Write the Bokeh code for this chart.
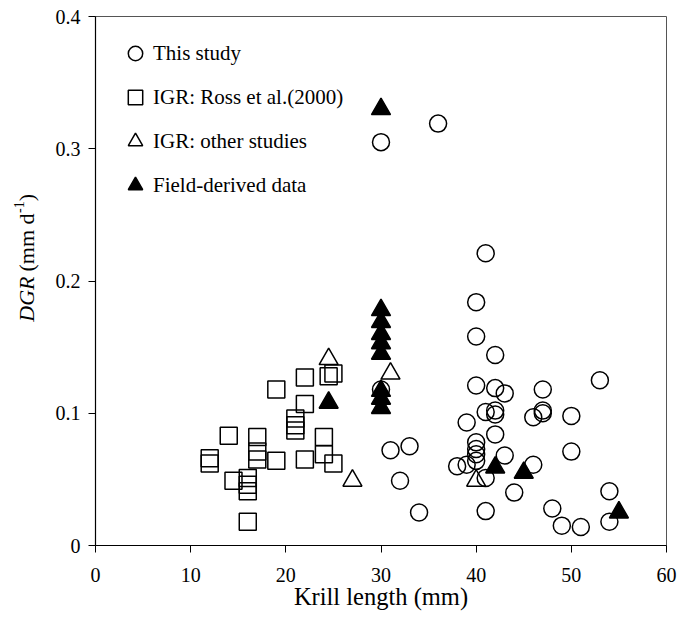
from bokeh.plotting import figure
from bokeh.layouts import row
from bokeh.models import Legend, LegendItem, FixedTicker
from bokeh.core.properties import value
from bokeh.embed import file_html
from bokeh.resources import INLINE

# "This study" (open circles)
study_x = [30, 36, 41, 40, 40, 42, 53, 40, 42, 43, 47, 30, 41, 42, 42, 46, 47, 47, 50, 39, 42,
           50, 40, 40, 40, 40, 43, 38, 39, 46, 41, 44, 54, 41, 48, 49, 51, 54, 31, 33, 32, 34]
study_y = [0.305, 0.319, 0.221, 0.184, 0.158, 0.144, 0.125, 0.121, 0.119, 0.115, 0.118, 0.118,
           0.101, 0.102, 0.099, 0.097, 0.100, 0.102, 0.098, 0.093, 0.084, 0.071, 0.078, 0.073,
           0.069, 0.064, 0.068, 0.060, 0.061, 0.061, 0.051, 0.040, 0.041, 0.026, 0.028, 0.015,
           0.014, 0.018, 0.072, 0.075, 0.049, 0.025]

# IGR: Ross et al. (2000) (open squares)
ross_x = [12, 12, 14, 14.5, 16, 16, 16, 16, 17, 17, 17, 19, 19, 21, 21, 21, 22, 22, 22, 24, 24,
          24.5, 25, 25]
ross_y = [0.066, 0.062, 0.083, 0.049, 0.051, 0.046, 0.041, 0.018, 0.082, 0.071, 0.065, 0.118,
          0.064, 0.096, 0.091, 0.087, 0.127, 0.107, 0.065, 0.082, 0.069, 0.128, 0.130, 0.062]

# IGR: other studies (open triangles)
other_x = [24.5, 27, 31, 40]
other_y = [0.141, 0.049, 0.130, 0.049]

# Field-derived data (filled triangles)
field_x = [30, 30, 30, 30, 30, 30, 30, 30, 30, 24.5, 42, 45, 55]
field_y = [0.330, 0.178, 0.169, 0.160, 0.153, 0.145, 0.117, 0.111, 0.104, 0.108, 0.059, 0.055, 0.025]

x_ticks = [0, 10, 20, 30, 40, 50, 60]
y_ticks = [0, 0.1, 0.2, 0.3, 0.4]

FONT = "Liberation Serif"
TOP, BOTTOM, FH = 16, 97, 529
LEFT_W = 40

p = figure(frame_width=571, frame_height=FH, x_range=(0, 60), y_range=(0, 0.4),
           output_backend="svg", toolbar_location=None,
           min_border_left=95 - LEFT_W, min_border_right=12,
           min_border_top=TOP, min_border_bottom=BOTTOM)
p.background_fill_color = "white"
p.border_fill_color = "white"
p.outline_line_color = "#555555"
p.outline_line_width = 1
p.xgrid.visible = False
p.ygrid.visible = False

for ax in (p.xaxis[0], p.yaxis[0]):
    ax.major_label_text_font = FONT
    ax.major_label_text_font_size = "20px"
    ax.major_label_text_color = "black"
    ax.axis_line_color = "black"
    ax.axis_line_width = 1.2
    ax.major_tick_line_color = "black"
    ax.major_tick_out = 7
    ax.major_tick_in = 0
    ax.minor_tick_line_color = None

p.xaxis.ticker = FixedTicker(ticks=x_ticks)
p.yaxis.ticker = FixedTicker(ticks=y_ticks)
p.yaxis.major_label_overrides = {0: "0"}
p.xaxis.major_label_standoff = 15
p.yaxis.major_label_standoff = 8
p.xaxis.axis_label = "Krill length (mm)"
p.xaxis.axis_label_text_font = FONT
p.xaxis.axis_label_text_font_style = "normal"
p.xaxis.axis_label_text_font_size = "24.5px"
p.xaxis.axis_label_text_color = "black"
p.xaxis.axis_label_standoff = -2

r_study = p.scatter(study_x, study_y, marker="circle", size=17, fill_color=None,
                    line_color="black", line_width=1.5)
r_ross = p.scatter(ross_x, ross_y, marker="square", size=17, fill_color=None,
                   line_color="black", line_width=1.5)
r_other = p.scatter(other_x, other_y, marker="triangle", size=19, fill_color=None,
                    line_color="black", line_width=1.5)
r_field = p.scatter(field_x, field_y, marker="triangle", size=19, fill_color="black",
                    line_color="black", line_width=1.5)

legend = Legend(items=[
    LegendItem(label="This study", renderers=[r_study]),
    LegendItem(label="IGR: Ross et al.(2000)", renderers=[r_ross]),
    LegendItem(label="IGR: other studies", renderers=[r_other]),
    LegendItem(label="Field-derived data", renderers=[r_field]),
], location=(22, 340), orientation="vertical")
legend.label_text_font = FONT
legend.label_text_font_size = "21px"
legend.label_text_color = "black"
legend.glyph_width = 36
legend.glyph_height = 40
legend.label_height = 40
legend.spacing = 4
legend.padding = 10
legend.margin = 0
legend.label_standoff = 0
legend.border_line_color = None
legend.background_fill_alpha = 0
p.add_layout(legend)

# y-axis title drawn in a narrow strip figure to the left
lf = figure(frame_width=LEFT_W, frame_height=FH, x_range=(0, 1), y_range=p.y_range,
            output_backend="svg", toolbar_location=None,
            min_border_left=0, min_border_right=0,
            min_border_top=TOP, min_border_bottom=BOTTOM)
lf.xaxis.visible = False
lf.yaxis.visible = False
lf.xgrid.visible = False
lf.ygrid.visible = False
lf.outline_line_color = None
lf.background_fill_color = "white"
lf.border_fill_color = "white"

common = dict(angle=90, angle_units="deg", text_baseline="middle",
              text_font=value(FONT), text_color="black")
lf.text(x=[0.65], y=[0.2034], text=["DGR"], text_align="right",
        text_font_style="italic", text_font_size="22px", **common)
lf.text(x=[0.65], y=[0.2072], text=["(mm d"], text_align="left",
        text_font_size="22px", **common)
lf.text(x=[0.47], y=[0.2515], text=["-1"], text_align="left",
        text_font_size="14px", **common)
lf.text(x=[0.65], y=[0.2603], text=[")"], text_align="left",
        text_font_size="22px", **common)

layout = row(lf, p, spacing=0)
open("out.html", "w").write(file_html(layout, INLINE))
